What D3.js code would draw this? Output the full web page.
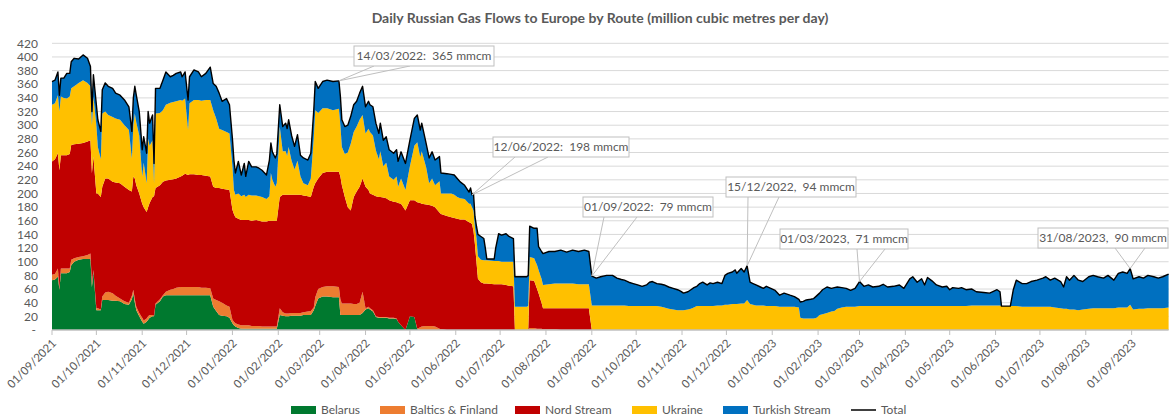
<!DOCTYPE html>
<html>
<head>
<meta charset="utf-8">
<script src="https://cdn.jsdelivr.net/npm/d3@7"></script>
<style>
  body { margin: 0; background: #fff; }
  text { font-family: Lato, "Liberation Sans", sans-serif; fill: #595959; }
</style>
</head>
<body>
<svg width="1170" height="419"></svg>
<script>
// days since 01/09/2021
const dayOffsets = [
  0,2,4,5,6,8,10,12,13,15, 18,21,24,26,27,28,30,31,33,34,
  36,38,41,43,46,49,52,54,55,56, 57,59,61,62,64,65,66,68,69,70,
  73,75,77,80,82,84,87,88,90,92, 93,96,99,101,104,107,109,111,113,115,
  118,120,122,123,124,126,128,130,131,133,
  135,138,140,142,145,147,148,149,151,152, 154,156,158,159,160,162,164,166,168,170,
  173,175,177,178,180,183,186,190,194,195, 196,198,200,202,204,206,208,210,212,214,
  215,217,219,221,222,224,226,228,231,233, 234,236,239,242,245,247,249,250,253,255,
  257,259,262,263,267,270,272,274,276,279, 282,283,284,285,286,287,288,290,292,293,
  294,299,300,302,304,307,309,312,313,321, 322,323,326,328,329,331,332,336,340,344,
  348,352,356,360,363,
  365,368,371,375,379,382,385,387,390,393, 396,399,402,404,406,409,412,414,417,420,
  423,425,427,430,432,434,436,438,440,443, 445,447,450,453,455,457,460,462,463,466,
  468,470,472,474,476,479,481,483,486,489, 492,495,499,502,505,506,508,510,513,515,
  517,519,521,524,527,529,531,534,537,540, 543,546,549,552,555,559,562,565,569,573,
  576,580,582,585,588,590,592,595,598,602, 605,607,609,613,615,618,622,625,630,634,
  639,641,642,648,650,652,656,659,662,666, 670,672,675,678,682,684,686,688,691,694,
  697,701,704,707,711,714,718,721,724,727, 729,731,735,738,741,745,748,751,755
];

const belarus = [
  73,74,78,59,83,83,83,85,95,100, 103,104,104,104,63,86,29,29,29,44,
  44,44,43,43,42,38,37,45,54,40, 29,20,12,9,12,15,18,20,20,37,
  42,49,51,51,51,51,51,51,51,51, 51,51,51,51,51,51,34,28,22,21,
  20,18,10,7,5,3,2,2,2,2,
  2,2,2,2,2,2,2,2,2,2, 22,21,20,20,20,21,21,21,21,22,
  22,22,29,35,46,49,49,48,48,22, 22,22,22,22,22,22,22,25,30,32,
  30,27,19,18,18,18,18,17,17,16, 12,7,0,20,19,1,0,0,0,0,
  0,0,0,0,0,0,0,0,0,0, 0,0,0,0,0,0,0,0,0,0,
  0,0,0,0,0,0,0,0,0,0, 0,0,0,0,0,0,0,0,0,0,
  0,0,0,0,0,
  0,0,0,0,0,0,0,0,0,0, 0,0,0,0,0,0,0,0,0,0,
  0,0,0,0,0,0,0,0,0,0, 0,0,0,0,0,0,0,0,0,0,
  0,0,0,0,0,0,0,0,0,0, 0,0,0,0,0,0,0,0,0,0,
  0,0,0,0,0,0,0,0,0,0, 0,0,0,0,0,0,0,0,0,0,
  0,0,0,0,0,0,0,0,0,0, 0,0,0,0,0,0,0,0,0,0,
  0,0,0,0,0,0,0,0,0,0, 0,0,0,0,0,0,0,0,0,0,
  0,0,0,0,0,0,0,0,0,0, 0,0,0,0,0,0,0,0,0
];

const baltics = [
  8,8,12,1,7,7,7,5,8,5, 4,4,6,8,5,2,3,3,1,5,
  11,12,11,7,4,4,3,5,5,5, 5,5,6,5,5,5,4,2,1,2,
  3,2,5,8,9,11,12,12,12,12, 12,12,12,11,11,10,12,16,20,19,
  16,16,5,5,5,5,5,5,5,5,
  4,4,4,3,3,3,3,3,3,3, 10,5,4,4,4,4,4,4,4,4,
  5,6,4,13,14,14,15,16,15,23, 17,17,17,17,16,16,18,31,2,2,
  2,2,1,1,1,1,1,1,1,1, 0,0,0,0,0,1,4,5,6,6,
  6,5,2,1,0,0,0,0,0,0, 0,0,0,0,0,0,0,0,0,0,
  0,0,0,0,0,0,0,0,0,0, 0,3,3,2,2,2,1,1,1,0,
  0,0,0,0,0,
  0,0,0,0,0,0,0,0,0,0, 0,0,0,0,0,0,0,0,0,0,
  0,0,0,0,0,0,0,0,0,0, 0,0,0,0,0,0,0,0,0,0,
  0,0,0,0,0,0,0,0,0,0, 0,0,0,0,0,0,0,0,0,0,
  0,0,0,0,0,0,0,0,0,0, 0,0,0,0,0,0,0,0,0,0,
  0,0,0,0,0,0,0,0,0,0, 0,0,0,0,0,0,0,0,0,0,
  0,0,0,0,0,0,0,0,0,0, 0,0,0,0,0,0,0,0,0,0,
  0,0,0,0,0,0,0,0,0,0, 0,0,0,0,0,0,0,0,0
];

const nordStream = [
  166,168,169,174,166,166,166,168,168,167, 166,166,166,166,162,166,168,168,165,161,
  167,166,163,166,169,168,165,153,166,177, 178,175,167,166,156,160,164,173,175,169,
  167,166,163,161,161,160,162,163,166,164, 165,165,164,165,164,164,164,164,166,167,
  170,171,161,158,155,155,154,154,154,154,
  154,155,154,154,154,155,155,155,155,155, 163,172,174,174,174,173,173,173,173,171,
  169,167,177,167,162,167,168,168,169,180, 173,156,141,136,157,165,170,166,178,171,
  168,169,176,176,176,175,174,172,170,170, 174,178,175,170,171,185,182,180,178,177,
  176,175,170,169,167,165,164,163,162,162, 158,157,155,145,125,100,75,70,68,68,
  68,67,67,67,67,66,65,64,0,0, 0,70,69,58,52,38,31,31,31,32,
  32,32,32,32,32,
  0,0,0,0,0,0,0,0,0,0, 0,0,0,0,0,0,0,0,0,0,
  0,0,0,0,0,0,0,0,0,0, 0,0,0,0,0,0,0,0,0,0,
  0,0,0,0,0,0,0,0,0,0, 0,0,0,0,0,0,0,0,0,0,
  0,0,0,0,0,0,0,0,0,0, 0,0,0,0,0,0,0,0,0,0,
  0,0,0,0,0,0,0,0,0,0, 0,0,0,0,0,0,0,0,0,0,
  0,0,0,0,0,0,0,0,0,0, 0,0,0,0,0,0,0,0,0,0,
  0,0,0,0,0,0,0,0,0,0, 0,0,0,0,0,0,0,0,0
];

const ukraine = [
  83,82,85,86,86,84,83,84,83,85, 89,92,86,79,70,88,100,68,55,107,
  98,93,95,94,93,90,88,48,75,95, 92,85,40,65,42,100,84,83,19,109,
  106,105,111,113,113,113,112,110,110,66, 104,109,110,109,111,112,112,102,87,86,
  84,83,64,35,33,37,35,37,34,37,
  37,36,36,36,33,36,70,60,50,55, 103,64,64,57,70,50,37,50,27,18,
  16,27,72,107,96,95,93,90,92,75, 56,63,80,98,95,95,98,93,78,90,
  90,87,67,55,67,46,52,35,32,38, 24,37,30,50,80,88,67,77,54,32,
  40,32,46,30,33,35,34,32,31,30, 27,28,25,30,25,35,33,33,34,34,
  34,34,34,34,33,34,35,36,34,34, 35,34,33,35,34,35,34,35,36,36,
  36,36,35,35,35,
  36,36,36,36,36,36,36,36,35,35, 35,35,35,35,35,35,34,33,31,30,
  29,29,29,30,31,33,35,35,35,35, 35,35,36,36,37,37,38,38,38,39,
  39,44,38,37,36,36,36,35,35,35, 34,34,34,34,33,18,17,17,17,17,
  18,22,23,25,27,28,31,33,34,34, 34,35,35,35,35,35,35,35,35,35,
  35,35,35,35,35,35,35,35,35,35, 35,35,35,35,35,35,36,36,36,36,
  36,36,35,35,35,35,34,34,34,34, 34,34,34,33,32,31,31,30,30,29,
  30,31,32,32,32,32,32,33,33,33, 37,30,31,31,32,32,32,32,33
];

const turkishStream = [
  34,34,34,24,27,29,37,34,39,41, 35,37,36,29,20,32,30,40,41,35,
  42,42,42,37,36,37,34,40,40,40, 40,35,39,38,44,40,33,37,29,37,
  36,44,48,38,39,41,41,35,39,44, 39,44,41,35,39,48,39,47,52,42,
  49,42,40,44,32,47,31,46,30,49,
  42,42,41,39,35,53,44,41,42,43, 32,36,41,40,40,37,34,38,31,37,
  37,37,40,42,36,39,41,42,41,42, 40,40,40,40,40,37,39,42,39,40,
  40,42,40,38,41,38,38,39,39,39, 37,39,39,38,40,40,40,41,35,37,
  39,37,36,30,29,28,29,27,24,20, 17,23,18,25,16,17,32,34,32,18,
  2,3,19,40,39,41,37,34,44,44, 45,45,44,54,34,40,46,48,47,49,
  46,49,48,50,48,
  43,40,42,44,44,40,38,37,35,33, 31,29,31,35,36,33,33,33,32,31,
  30,28,25,26,28,29,29,33,35,31, 34,33,34,32,43,46,47,50,45,51,
  46,50,32,31,30,27,25,29,26,23, 17,20,17,15,12,23,25,27,28,29,
  32,32,36,38,34,34,32,29,27,24, 27,36,29,31,28,29,32,28,29,31,
  26,40,43,35,40,31,42,37,31,28, 29,24,27,26,27,24,24,20,19,18,
  23,20,0,0,24,38,34,34,37,39, 42,44,39,43,39,32,47,43,50,44,
  41,47,48,46,44,48,41,50,52,50, 53,45,47,45,48,46,44,46,49
];

const seriesNames = ['Belarus', 'Baltics & Finland', 'Nord Stream', 'Ukraine', 'Turkish Stream'];
const seriesColors = ['#00792f', '#ed7d31', '#c00000', '#ffc000', '#0070c0'];
const yTicks = [0, 20, 40, 60, 80, 100, 120, 140, 160, 180, 200, 220, 240, 260, 280, 300, 320, 340, 360, 380, 400, 420];

// callouts: day offset, text, box and where the pointer leaves the box
const callouts = [
  { day: 194, text: '14/03/2022:  365 mmcm', box: [354, 46, 140, 20], feet: [374, 410] },
  { day: 284, text: '12/06/2022:  198 mmcm', box: [493, 137, 136, 20], feet: [515, 548] },
  { day: 365, text: '01/09/2022:  79 mmcm', box: [583, 197, 130, 20], feet: [604, 637] },
  { day: 470, text: '15/12/2022,  94 mmcm', box: [726, 177, 130, 20], feet: [748, 779] },
  { day: 546, text: '01/03/2023,  71 mmcm', box: [780, 229, 128, 20], feet: [857, 885] },
  { day: 729, text: '31/08/2023,  90 mmcm', box: [1038, 228, 130, 20], feet: [1115, 1145] }
];

// legend key x positions
const legendX = [291, 380, 515, 632, 723, 851];

(function () {
  const start = new Date(Date.UTC(2021, 8, 1));
  const seriesValues = [belarus, baltics, nordStream, ukraine, turkishStream];

  const rows = dayOffsets.map((d, i) => {
    const r = { date: d3.utcDay.offset(start, d) };
    seriesNames.forEach((k, j) => { r[k] = seriesValues[j][i]; });
    r.total = d3.sum(seriesNames, k => r[k]);
    return r;
  });

  const svg = d3.select('svg');
  const pLeft = 52, pRight = 1168.6, pTop = 43.3, pBottom = 330;

  const x = d3.scaleUtc()
    .domain([start, d3.utcDay.offset(start, 755)])
    .range([pLeft, pRight]);
  const y = d3.scaleLinear().domain([0, 420]).range([pBottom, pTop]);

  svg.append('text')
    .attr('x', 600)
    .attr('y', 23)
    .attr('text-anchor', 'middle')
    .style('font-size', '14px')
    .style('font-weight', 'bold')
    .text('Daily Russian Gas Flows to Europe by Route (million cubic metres per day)');

  // grid + y labels
  svg.append('g')
    .selectAll('line')
    .data(yTicks.filter(t => t > 0))
    .enter()
    .append('line')
    .attr('x1', pLeft).attr('x2', pRight)
    .attr('y1', d => y(d)).attr('y2', d => y(d))
    .attr('stroke', '#d9d9d9');

  svg.append('g')
    .selectAll('text')
    .data(yTicks)
    .enter()
    .append('text')
    .attr('x', d => d === 0 ? 36 : 38)
    .attr('y', d => y(d))
    .attr('dy', '0.35em')
    .attr('text-anchor', 'end')
    .style('font-size', '12px')
    .text(d => d === 0 ? '-' : d);

  // stacked areas
  const layers = d3.stack().keys(seriesNames)(rows);
  const area = d3.area()
    .x(d => x(d.data.date))
    .y0(d => y(d[0]))
    .y1(d => y(d[1]));

  svg.append('g')
    .selectAll('path')
    .data(layers)
    .enter()
    .append('path')
    .attr('fill', (d, i) => seriesColors[i])
    .attr('d', area);

  svg.append('path')
    .datum(rows)
    .attr('fill', 'none')
    .attr('stroke', '#000')
    .attr('stroke-width', 1.4)
    .attr('stroke-linejoin', 'round')
    .attr('d', d3.line().x(d => x(d.date)).y(d => y(d.total)));

  // x axis
  const months = d3.utcMonth.range(start, d3.utcDay.offset(start, 756));
  const fmt = d3.utcFormat('%d/%m/%Y');
  svg.append('line')
    .attr('x1', pLeft).attr('x2', pRight)
    .attr('y1', pBottom).attr('y2', pBottom)
    .attr('stroke', '#bfbfbf').attr('stroke-width', 1.5);

  const xt = svg.append('g')
    .selectAll('g')
    .data(months)
    .enter()
    .append('g')
    .attr('transform', d => `translate(${x(d)},${pBottom})`);
  xt.append('line').attr('y2', 5).attr('stroke', '#bfbfbf');
  xt.append('text')
    .attr('transform', 'translate(5,14) rotate(-45)')
    .attr('text-anchor', 'end')
    .style('font-size', '11.5px')
    .text(fmt);

  // callouts
  const byDay = new Map(dayOffsets.map((d, i) => [d, rows[i]]));
  const cg = svg.append('g');
  callouts.forEach(c => {
    const r = byDay.get(c.day);
    const px = x(r.date), py = y(r.total);
    const [bx, by, bw, bh] = c.box;
    c.feet.forEach(fx => {
      cg.append('line')
        .attr('x1', fx).attr('y1', by + bh)
        .attr('x2', px).attr('y2', py)
        .attr('stroke', '#bfbfbf');
    });
    cg.append('rect')
      .attr('x', bx).attr('y', by)
      .attr('width', bw).attr('height', bh)
      .attr('fill', '#fff')
      .attr('stroke', '#bfbfbf');
    cg.append('text')
      .attr('x', bx + bw / 2)
      .attr('y', by + bh / 2)
      .attr('dy', '0.35em')
      .attr('text-anchor', 'middle')
      .style('font-size', '12px')
      .style('white-space', 'pre')
      .text(c.text);
  });

  // legend
  const legendItems = seriesNames.map((n, i) => ({ name: n, color: seriesColors[i], kind: 'rect' }))
    .concat([{ name: 'Total', color: '#000', kind: 'line' }]);
  const lg = svg.append('g');
  const ly = 410;
  legendItems.forEach((it, i) => {
    const lx = legendX[i];
    if (it.kind === 'rect') {
      lg.append('rect').attr('x', lx).attr('y', ly - 4).attr('width', 25).attr('height', 8).attr('fill', it.color);
    } else {
      lg.append('line').attr('x1', lx).attr('x2', lx + 25).attr('y1', ly).attr('y2', ly)
        .attr('stroke', it.color).attr('stroke-width', 1.5);
    }
    lg.append('text')
      .attr('x', lx + 30)
      .attr('y', ly)
      .attr('dy', '0.35em')
      .style('font-size', '12px')
      .text(it.name);
  });
}());
</script>
</body>
</html>
